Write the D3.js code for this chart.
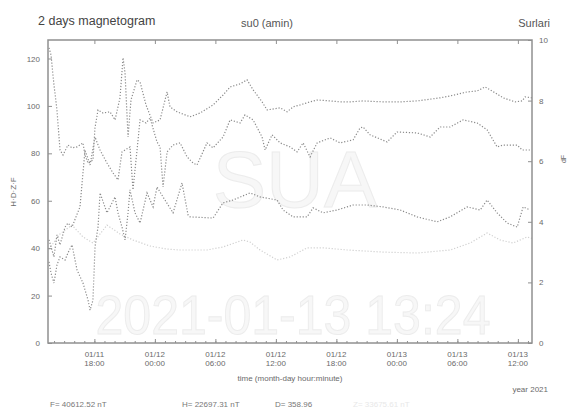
<!DOCTYPE html>
<html><head><meta charset="utf-8">
<script src="https://cdn.jsdelivr.net/npm/d3@7"></script>
<style>
html,body{margin:0;padding:0;background:#fff;}
svg{display:block;font-family:"Liberation Sans",Arial,Helvetica,sans-serif;}
</style></head>
<body>
<svg id="c" width="574" height="409"></svg>
<script>
// ---- data (t = hours since 2021-01-11 00:00, value) ----
const seriesH = [[13.50,124.5],[13.70,121.5],[13.99,108.9],[14.29,98.3],[14.59,81.4],[14.89,79.3],[15.38,83.5],[15.78,82.3],[16.28,82.7],[16.87,84.4],[17.07,79.3],[17.37,75.9],[17.86,77.2],[18.06,90.7],[18.36,98.3],[18.86,97.0],[19.55,97.5],[20.05,94.1],[20.54,103.4],[20.84,120.3],[21.04,113.9],[21.34,86.9],[21.63,102.5],[22.23,111.0],[22.53,110.1],[23.12,100.4],[23.82,92.8],[24.51,94.1],[25.21,105.9],[25.50,99.6],[26.20,97.5],[27.49,95.4],[28.48,97.0],[29.77,100.4],[30.76,104.6],[31.46,108.0],[32.45,109.3],[33.14,111.0],[33.74,106.8],[34.63,101.7],[35.13,98.3],[36.42,99.2],[37.11,97.5],[37.71,99.6],[38.40,100.4],[39.39,101.7],[40.09,102.5],[41.38,102.1],[42.37,101.7],[43.36,101.7],[44.65,102.1],[46.63,101.7],[48.32,101.7],[50.01,102.1],[52.29,103.4],[53.28,104.2],[54.97,105.9],[55.96,106.3],[56.75,108.0],[57.75,105.5],[58.54,103.4],[59.73,101.7],[60.42,102.1],[60.72,103.8],[61.41,103.4]];
const seriesD = [[13.50,43.5],[13.99,36.3],[14.29,45.6],[14.59,41.4],[15.09,48.9],[15.38,50.6],[15.78,48.9],[16.57,57.4],[16.87,71.7],[17.07,81.4],[17.57,75.1],[18.06,86.9],[18.56,81.4],[19.25,75.9],[19.85,71.7],[20.34,68.8],[20.74,80.6],[21.53,82.7],[21.83,64.6],[22.53,94.1],[23.12,92.8],[23.52,94.9],[24.21,84.8],[24.51,82.7],[24.81,65.8],[25.21,80.6],[25.80,83.5],[26.50,84.4],[27.19,78.5],[27.79,75.9],[28.18,75.1],[29.17,84.4],[29.77,82.3],[30.76,86.9],[31.46,94.1],[32.45,92.8],[32.94,96.2],[33.74,94.1],[34.63,86.9],[34.93,81.4],[35.62,87.8],[36.42,84.4],[37.41,82.7],[38.10,80.6],[38.70,84.4],[39.39,78.5],[40.09,84.4],[41.38,86.5],[42.37,84.4],[43.66,85.7],[44.35,90.7],[44.65,91.1],[45.34,87.8],[47.03,84.8],[48.02,89.0],[50.01,88.6],[51.30,86.9],[52.29,91.1],[53.28,91.1],[54.57,94.1],[55.96,92.8],[56.95,89.9],[57.94,82.7],[58.54,83.5],[59.93,83.5],[60.42,81.4],[61.21,81.4]];
const seriesZ = [[13.50,34.2],[13.70,29.5],[13.99,25.3],[14.29,32.9],[14.59,36.3],[15.09,35.0],[15.38,38.0],[15.78,41.4],[16.28,30.8],[16.87,25.3],[17.37,18.1],[17.57,13.9],[17.86,18.1],[18.06,40.5],[18.36,48.9],[18.56,63.3],[19.25,54.9],[19.55,57.4],[20.05,61.6],[20.34,54.9],[20.74,48.9],[21.04,43.5],[21.34,54.9],[21.53,64.6],[22.03,54.9],[22.53,50.6],[23.22,63.3],[23.82,57.4],[24.21,65.8],[24.81,61.6],[25.80,54.9],[26.69,67.5],[27.29,54.0],[27.49,53.2],[29.77,52.7],[30.76,59.1],[31.75,60.3],[33.44,63.3],[34.43,61.6],[36.12,60.3],[36.71,56.1],[37.71,53.2],[39.09,53.2],[39.69,57.0],[40.68,54.9],[42.07,56.1],[43.66,58.2],[45.05,58.2],[46.63,57.4],[48.32,56.1],[50.01,53.2],[51.99,51.1],[53.28,53.2],[54.97,57.4],[56.26,56.1],[56.95,60.3],[57.94,54.9],[58.94,50.6],[59.93,48.9],[60.52,57.4],[61.21,56.1]];
const seriesDF = [[13.50,3.10],[14.59,3.60],[15.78,3.89],[16.87,3.50],[17.86,3.30],[19.25,3.89],[20.54,3.60],[21.83,3.40],[23.52,3.20],[25.21,3.10],[26.50,3.07],[29.17,3.07],[30.76,3.17],[32.75,3.40],[33.44,3.33],[34.43,3.07],[36.12,2.74],[37.41,2.84],[39.09,3.14],[40.68,3.14],[43.06,3.07],[46.63,3.00],[50.01,2.97],[53.28,3.07],[55.27,3.30],[56.95,3.63],[58.24,3.40],[59.53,3.30],[60.92,3.50],[61.41,3.45]];
const leftTicks = [0,20,40,60,80,100,120];
const rightTicks = [0,2,4,6,8,10];
const timeTicks = [18,24,30,36,42,48,54,60];
const tickDates = ["01/11","01/12","01/12","01/12","01/12","01/13","01/13","01/13"];
const tickTimes = ["18:00","00:00","06:00","12:00","18:00","00:00","06:00","12:00"];
const startHour = 13.4, endHour = 61.4;

const svg = d3.select("#c");
const M = {l:48, r:532, t:40, b:343};
const base = new Date(2021,0,11,0,0).getTime();
const toDate = h => new Date(base + h*3600e3);
const x = d3.scaleTime().domain([toDate(startHour), toDate(endHour)]).range([M.l, M.r]);
const yL = d3.scaleLinear().domain([0,127.8]).range([M.b, M.t]);
const yR = d3.scaleLinear().domain([0,10]).range([M.b, M.t]);

// watermarks
svg.append("text").attr("x",295).attr("y",207).attr("text-anchor","middle")
  .attr("font-size",80).attr("fill","#f7f7f7").attr("stroke","#ececec").attr("stroke-width",1)
  .text("SUA");
svg.append("text").attr("x",293).attr("y",334).attr("text-anchor","middle")
  .attr("font-size",56).attr("textLength",395).attr("lengthAdjust","spacingAndGlyphs")
  .attr("fill","#f7f7f7").attr("stroke","#ececec").attr("stroke-width",1)
  .text("2021-01-13 13:24");

// data lines (dotted)
const lineL = d3.line().x(d=>x(toDate(d[0]))).y(d=>yL(d[1]));
const lineR = d3.line().x(d=>x(toDate(d[0]))).y(d=>yR(d[1]));
svg.append("path").datum(seriesDF).attr("d",lineR).attr("fill","none")
  .attr("stroke","#d0d0d0").attr("stroke-width",1.2).attr("stroke-dasharray","1.2 1.8");
[seriesH, seriesD, seriesZ].forEach(s=>{
  svg.append("path").datum(s).attr("d",lineL).attr("fill","none")
    .attr("stroke","#8a8a8a").attr("stroke-width",1.2).attr("stroke-dasharray","1.2 1.8");
});

// frame
svg.append("rect").attr("x",M.l).attr("y",M.t).attr("width",M.r-M.l).attr("height",M.b-M.t)
  .attr("fill","none").attr("stroke","#909090").attr("stroke-width",1.5);

const tickCol = "#909090", labCol = "#6a6a6a";
const gl = svg.append("g").attr("transform",`translate(${M.l},0)`)
  .call(d3.axisLeft(yL).tickValues(leftTicks).tickSize(-4).tickPadding(8));
const gr = svg.append("g").attr("transform",`translate(${M.r},0)`)
  .call(d3.axisRight(yR).tickValues(rightTicks).tickSize(-4).tickPadding(7));
const gb = svg.append("g").attr("transform",`translate(0,${M.b})`)
  .call(d3.axisBottom(x).tickValues(timeTicks.map(toDate)).tickSize(-4).tickFormat(""));
const gbm = svg.append("g").attr("transform",`translate(0,${M.b})`)
  .call(d3.axisBottom(x).ticks(d3.timeHour.every(1)).tickSize(-2).tickFormat(""));
const gt = svg.append("g").attr("transform",`translate(0,${M.t})`)
  .call(d3.axisTop(x).tickValues(timeTicks.map(toDate)).tickSize(-4).tickFormat(""));
[gl,gr,gb,gbm,gt].forEach(g=>{
  g.select(".domain").remove();
  g.selectAll("line").attr("stroke",tickCol);
  g.selectAll("text").attr("fill",labCol).attr("font-size",8).attr("font-family","Liberation Sans, Arial, sans-serif");
});
timeTicks.forEach((h,i)=>{
  const t = svg.append("text").attr("x",x(toDate(h))).attr("text-anchor","middle")
    .attr("fill",labCol).attr("font-size",8);
  t.append("tspan").attr("x",x(toDate(h))).attr("y",357).text(tickDates[i]);
  t.append("tspan").attr("x",x(toDate(h))).attr("y",366).text(tickTimes[i]);
});

svg.append("text").attr("x",(M.l+M.r)/2).attr("y",381).attr("text-anchor","middle")
  .attr("fill",labCol).attr("font-size",8).text("time (month-day hour:minute)");
svg.append("text").attr("x",548).attr("y",392).attr("text-anchor","end")
  .attr("fill",labCol).attr("font-size",8).text("year 2021");
svg.append("text").attr("transform","translate(16,192) rotate(-90)").attr("text-anchor","middle")
  .attr("fill",labCol).attr("font-size",8).text("H·D·Z·F");
svg.append("text").attr("transform","translate(566,159) rotate(-90)").attr("text-anchor","middle")
  .attr("fill",labCol).attr("font-size",7).text("dF");

svg.append("text").attr("x",38).attr("y",25).attr("fill","#444").attr("font-size",12.5).text("2 days magnetogram");
svg.append("text").attr("x",267).attr("y",27).attr("text-anchor","middle").attr("fill","#555").attr("font-size",11).text("su0 (amin)");
svg.append("text").attr("x",550).attr("y",27).attr("text-anchor","end").attr("fill","#555").attr("font-size",11).text("Surlari");

svg.append("text").attr("x",50).attr("y",407).attr("fill","#777").attr("font-size",8).text("F= 40612.52 nT");
svg.append("text").attr("x",182).attr("y",407).attr("fill","#777").attr("font-size",8).text("H= 22697.31 nT");
svg.append("text").attr("x",275).attr("y",407).attr("fill","#777").attr("font-size",8).text("D= 358.96");
svg.append("text").attr("x",353).attr("y",407).attr("fill","#e8e8e8").attr("font-size",8).text("Z= 33675.61 nT");
</script>
</body></html>
